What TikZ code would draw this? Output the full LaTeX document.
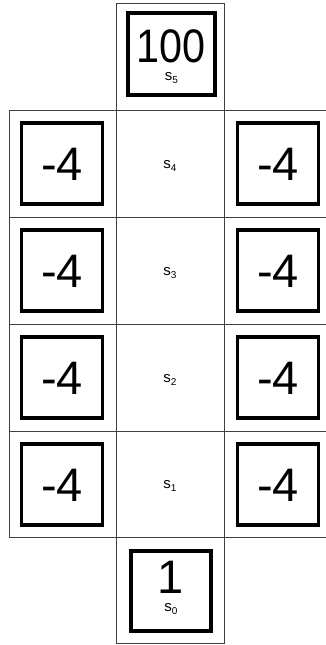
\documentclass[tikz,border=0pt]{standalone}
\usepackage{graphicx}
\usepackage{fontspec}
\setmainfont{Liberation Sans}
\newcommand{\slab}[1]{{\fontsize{15}{15}\selectfont s\raisebox{-3pt}{\fontsize{10}{10}\selectfont #1}}}
\newcommand{\bignum}[1]{{\fontsize{47}{47}\selectfont #1}}
\tikzset{
  grid/.style={draw=black!75, line width=0.8pt},
  rbox/.style={draw=black, line width=3.6pt, minimum width=81pt, minimum height=81pt, inner sep=0pt},
  big/.style={font=\fontsize{47}{47}\selectfont, inner sep=0pt, text height=34pt, text depth=0pt},
  stack/.style={inner sep=0pt, anchor=base},
  lab/.style={inner sep=0pt, text height=8pt, text depth=3pt}
}
\begin{document}
\begin{tikzpicture}[x=1pt,y=-1pt]
\useasboundingbox (0,0) rectangle (326,645);
% grid
\draw[grid] (116.5,3) rectangle (224,110.5);
\draw[grid] (116.5,537.5) rectangle (224,643);
\foreach \yy in {110.5,217,324,431,537.5} \draw[grid] (9,\yy) -- (327,\yy);
\foreach \xx in {9,116.5,224} \draw[grid] (\xx,110.5) -- (\xx,537.5);
% top state
\node[rbox, minimum width=87pt, minimum height=82pt] (b5) at (171.5,54) {};
\node[stack] (v5) at (171.5,62.5) {\begin{tabular}[t]{@{}c@{}}\scalebox{0.88}[1]{\bignum{100}}\\[6pt]\slab{5}\end{tabular}};
% bottom state
\node[rbox, minimum width=80pt, minimum height=80.5pt] (b0) at (171,591) {};
\node[stack] (v0) at (171,593) {\begin{tabular}[t]{@{}c@{}}\bignum{1}\\[6pt]\slab{0}\end{tabular}};
% rows
\foreach \yc/\n in {163.75/4,270.5/3,377.5/2,484.25/1}{
  \node[rbox] (l\n) at (62,\yc) {};
  \node[big] (lv\n) at (62,\yc) {-4};
  \node[rbox] (r\n) at (278,\yc) {};
  \node[big] (rv\n) at (278,\yc) {-4};
  \node[lab] (s\n) at (170,\yc+2) {\slab{\n}};
}
\end{tikzpicture}
\end{document}
